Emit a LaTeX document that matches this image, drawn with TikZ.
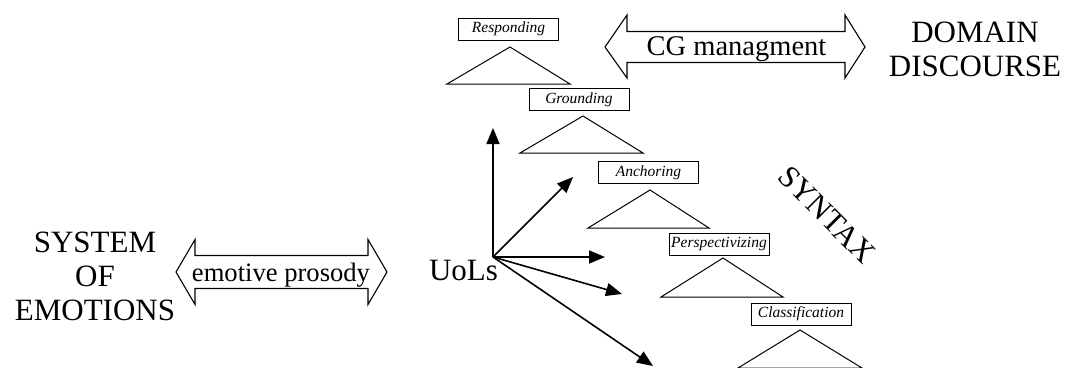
\documentclass[tikz,border=0pt]{standalone}
\usepackage{fontspec}
\setmainfont{Liberation Serif}
\usetikzlibrary{arrows.meta}
\begin{document}
\begin{tikzpicture}[x=1pt,y=-1pt,
  lbl/.style={draw, line width=1pt, minimum width=100pt, minimum height=22pt, inner sep=0pt,
    font=\fontsize{15.5}{15.5}\selectfont\itshape, fill=white},
  tri/.style={draw, line width=1pt, line join=miter},
  big/.style={font=\fontsize{31}{34}\selectfont, align=center, inner sep=0pt},
  vec/.style={line width=1.6pt, -{Triangle[length=16pt,width=13pt]}},
  blk/.style={draw, line width=1.1pt, line join=miter}]
\useasboundingbox (0,0) rectangle (1065,367);
\clip (0,0) rectangle (1065,367);

% big labels
\node[big] (emo) at (95,276) {SYSTEM\\OF\\EMOTIONS};
\node[big] (dom) at (975,49) {DOMAIN\\DISCOURSE};
\node[big, rotate=-45] (syn) at (827,215) {SYNTAX};
\node[big] (uol) at (463.5,270) {UoLs};

% emotive prosody block arrow
\draw[blk] (176,272) -- (195,239.5) -- (195,255.5) -- (368,255.5) -- (368,239.5) -- (387,272)
  -- (368,304.5) -- (368,288.5) -- (195,288.5) -- (195,304.5) -- cycle;
\node[font=\fontsize{26.6}{30}\selectfont, inner sep=0pt, anchor=base] (ep) at (281,281) {emotive prosody};

% CG managment block arrow
\draw[blk] (605,47) -- (627,15) -- (627,31.5) -- (845,31.5) -- (845,15) -- (865,47)
  -- (845,78) -- (845,62.5) -- (627,62.5) -- (627,78) -- cycle;
\node[font=\fontsize{28.5}{30}\selectfont, inner sep=0pt, anchor=base] (cg) at (736.5,55) {CG managment};

% labelled triangles
\node[lbl] (resp) at (508.5,29) {Responding};
\draw[tri] (510,47) -- (447,84) -- (570,84) -- cycle;
\node[lbl] (grou) at (579,99.5) {Grounding};
\draw[tri] (583,116) -- (520,153) -- (643,153) -- cycle;
\node[lbl] (anch) at (648.5,172.5) {Anchoring};
\draw[tri] (650,190) -- (588,228) -- (709,228) -- cycle;
\node[lbl] (pers) at (719,244) {Perspectivizing};
\draw[tri] (723,258) -- (661,297) -- (783,297) -- cycle;
\node[lbl] (clas) at (801,314) {Classification};
\draw[tri] (800,330) -- (738,368) -- (862,368) -- cycle;

% vectors from UoLs
\coordinate (o) at (493,257);
\coordinate (t1) at (493,128);
\coordinate (t2) at (573,177);
\coordinate (t3) at (605,257);
\coordinate (t4) at (622,294);
\coordinate (t5) at (653,366);
\draw[vec] (o) -- (t1);
\draw[vec] (o) -- (t2);
\draw[vec] (o) -- (t3);
\draw[vec] (o) -- (t4);
\draw[vec] (o) -- (t5);
\end{tikzpicture}
\end{document}
